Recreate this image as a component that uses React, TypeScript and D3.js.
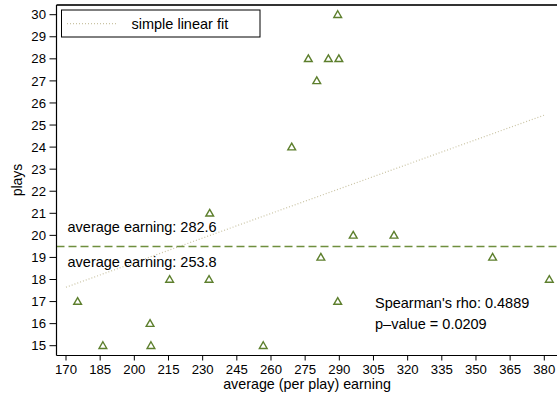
import React from 'react';
import * as d3 from 'd3';

// earnings (x) and plays (y)
const earning = [175.1, 186.2, 206.9, 207.3, 215.5, 232.8, 233.1, 256.6, 289.3, 276.4, 285.2, 289.8, 280.1, 269.1, 296.1, 314.0, 281.9, 357.3, 382.2, 289.3];
const plays = [17, 15, 16, 15, 18, 18, 21, 15, 30, 28, 28, 28, 27, 24, 20, 20, 19, 19, 18, 17];

const xTicks = [170, 185, 200, 215, 230, 245, 260, 275, 290, 305, 320, 335, 350, 365, 380];
const yTicks = [15, 16, 17, 18, 19, 20, 21, 22, 23, 24, 25, 26, 27, 28, 29, 30];

// fitted line ends, threshold on plays
const fitX = [170, 380];
const fitY = [17.65, 25.45];
const threshold = 19.5;

const labelAbove = 'average earning: 282.6';
const labelBelow = 'average earning: 253.8';
const statsLines = ["Spearman's rho: 0.4889", 'p\u2013value = 0.0209'];

const W = 557;
const H = 399;
const green = '#5d7f2d';
const fitColor = '#c9c3a3';
const font = 'Liberation Sans, Arial, Helvetica, sans-serif';

const App = () => {
    // plot box
    const left = 56.5, right = 562, top = 5, bottom = 355.5;

    const x = d3.scaleLinear().domain([170, 380]).range([66, 544.3]);
    const y = d3.scaleLinear().domain([15, 30]).range([345.7, 14.7]);

    const fitLine = d3.line<number>()
        .x((d) => x(d))
        .y((d, i) => y(fitY[i]));

    // hollow triangle
    const tri = d3.symbol().type(d3.symbolTriangle).size(26);

    return (
        <svg width={W} height={H} style={{ position: 'absolute', left: 0, top: 0, background: '#fff' }} fontFamily={font}>
            <rect width={W} height={H} fill="#fff" />

            {/* fitted line */}
            <path d={fitLine(fitX) || ''} fill="none" stroke={fitColor} strokeWidth={1.2} strokeDasharray="1,2" />

            {/* threshold line */}
            <line x1={left} x2={right} y1={y(threshold)} y2={y(threshold)} stroke="#6f8f3e" strokeWidth={1.5} strokeDasharray="8,4" />

            {/* points */}
            {earning.map((e, i) => (
                <path key={i} d={tri() || ''} transform={`translate(${x(e)},${y(plays[i]) + 0.5})`} fill="none" stroke={green} strokeWidth={1.4} />
            ))}

            {/* frame */}
            <line x1={left} x2={right} y1={top} y2={top} stroke="#333" strokeWidth={2} />
            <line x1={left} x2={left} y1={top} y2={bottom} stroke="#000" strokeWidth={1.2} />
            <line x1={left} x2={right} y1={bottom} y2={bottom} stroke="#000" strokeWidth={1.2} />

            {/* x axis */}
            {xTicks.map((t) => (
                <g key={t}>
                    <line x1={x(t)} x2={x(t)} y1={bottom} y2={bottom + 5} stroke="#000" />
                    <text x={x(t)} y={374} textAnchor="middle" fontSize={13.2}>{t}</text>
                </g>
            ))}
            <text x={307} y={389} textAnchor="middle" fontSize={14.3}>average (per play) earning</text>

            {/* y axis */}
            {yTicks.map((t) => (
                <g key={t}>
                    <line x1={left - 7} x2={left} y1={y(t)} y2={y(t)} stroke="#000" />
                    <text x={46} y={y(t) + 4.6} textAnchor="end" fontSize={13.2}>{t}</text>
                </g>
            ))}
            <text transform="translate(22,180) rotate(-90)" textAnchor="middle" fontSize={14}>plays</text>

            {/* legend */}
            <rect x={61.5} y={10} width={198.5} height={27} fill="#fff" stroke="#000" strokeWidth={1} />
            <line x1={67} x2={118} y1={23.7} y2={23.7} stroke={fitColor} strokeWidth={1.2} strokeDasharray="1,2" />
            <text x={131.5} y={28.5} fontSize={14.5}>simple linear fit</text>

            {/* annotations */}
            <text x={67.5} y={232} fontSize={14.5}>{labelAbove}</text>
            <text x={67.5} y={267} fontSize={14.5}>{labelBelow}</text>
            <text x={375} y={307.5} fontSize={14.5}>{statsLines[0]}</text>
            <text x={375} y={329} fontSize={14.5}>{statsLines[1]}</text>
        </svg>
    );
};

export default App;
